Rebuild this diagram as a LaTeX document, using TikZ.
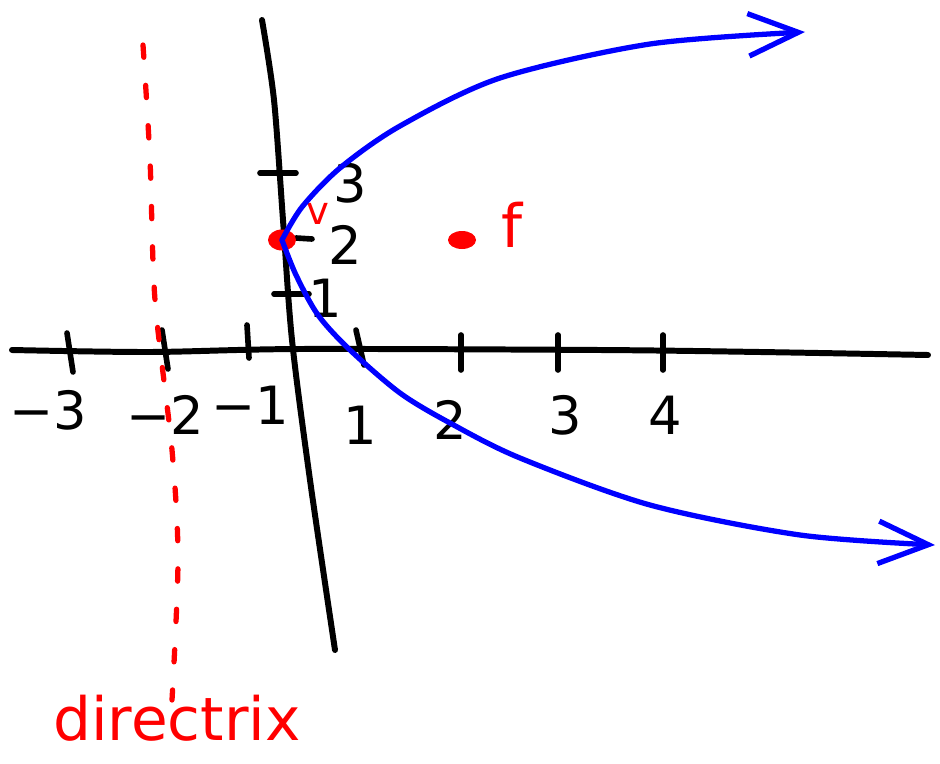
\documentclass[tikz,border=0pt]{standalone}
\usepackage{fontspec}
\setmainfont{DejaVu Sans}
\usetikzlibrary{arrows.meta,shapes.geometric}

\begin{document}
\begin{tikzpicture}[
    x=0.02cm, y=-0.02cm,
    line cap=round,
    axisline/.style={line width=3.4pt, black},
    tickmark/.style={line width=3.2pt, black},
    curve/.style={line width=3pt, blue,
        -{Straight Barb[length=1cm,width=0.85cm,line width=3pt]}},
    guide/.style={line width=3pt, red, dash pattern=on 7pt off 16pt},
    dot/.style={ellipse, fill=red, inner sep=0pt},
    numlabel/.style={font=\fontsize{30}{34}\selectfont, text=black, inner sep=0pt},
    redlabel/.style={font=\fontsize{34}{38}\selectfont, text=red, inner sep=0pt}
]
\useasboundingbox (0,0) rectangle (940,764);

% axes
\draw[axisline] plot[smooth] coordinates {(12,350) (150,352) (300,349) (600,350) (760,352) (928,355)};
\draw[axisline] plot[smooth] coordinates {(262,20) (274,100) (283,220) (292,340) (310,480) (335,650)};

% ticks on the x axis
\draw[tickmark] (67,333) -- (73,372);
\draw[tickmark] (162,330) -- (168,369);
\draw[tickmark] (247,325) -- (249,358);
\draw[tickmark] (356,330) -- (364,365);
\draw[tickmark] (461,335) -- (461,370);
\draw[tickmark] (558,335) -- (558,370);
\draw[tickmark] (663,335) -- (663,370);

% ticks on the y axis
\draw[tickmark] (260,173) -- (296,173);
\draw[tickmark] (296,238) -- (312,239);
\draw[tickmark] (274,294) -- (309,294);

% numbers
\node[numlabel] (xm3) at (48,410) {−3};
\node[numlabel] (xm2) at (165,415) {−2};
\node[numlabel] (xm1) at (250,405) {−1};
\node[numlabel] (xp1) at (360,425) {1};
\node[numlabel] (xp2) at (450,420) {2};
\node[numlabel] (xp3) at (565,415) {3};
\node[numlabel] (xp4) at (665,415) {4};
\node[numlabel] (yp3) at (350,183) {3};
\node[numlabel] (yp2) at (345,245) {2};
\node[numlabel] (yp1) at (325,298) {1};

% directrix
\draw[guide] plot[smooth] coordinates {(143,45) (150,160) (155,300) (172,450) (178,560) (172,700)};
\node[redlabel] (dirlabel) at (177,718) {directrix};

% vertex and focus
\node[dot, minimum width=0.56cm, minimum height=0.42cm] (v) at (282,240) {};
\node[dot, minimum width=0.56cm, minimum height=0.36cm] (f) at (462,240) {};
\node[redlabel, font=\fontsize{22}{26}\selectfont] (vlabel) at (318,214) {v};
\node[redlabel] (flabel) at (512,225) {f};

% parabola
\coordinate (uend) at (805,32);
\coordinate (lend) at (935,545);
\draw[curve] plot[smooth] coordinates {(v.center) (302,207) (340,168) (400,126) (500,78) (650,44) (uend)};
\draw[curve] plot[smooth] coordinates {(v.center) (296,275) (318,315) (350,350) (400,393) (450,423) (520,458) (650,505) (800,535) (lend)};

\end{tikzpicture}
\end{document}
